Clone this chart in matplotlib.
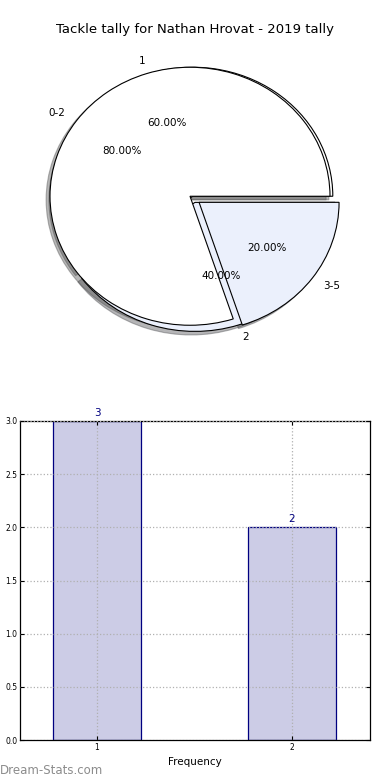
import matplotlib
matplotlib.use("Agg")
import matplotlib.pyplot as plt
import matplotlib.patches as mpatches
import numpy as np

title = "Tackle tally for Nathan Hrovat - 2019 tally"

# inner pie: tackles per game
tally_labels = ["1", "2"]
tally_counts = [3, 2]
# outer pie: grouped ranges
range_labels = ["0-2", "3-5"]
range_counts = [4, 1]

# bar chart
bar_x = [1, 2]
bar_vals = [3, 2]

pie_colors = ["white", "#ebf0fc"]

fig = plt.figure(figsize=(3.9, 7.8), dpi=100)

# pie axes (old style, not equal aspect -> elliptical pie)
ax1 = fig.add_axes([15 / 390, 1 - 357.5 / 780, 350 / 390, 322.5 / 780])

w1, t1, p1 = ax1.pie(tally_counts, labels=tally_labels, colors=pie_colors,
                     explode=(0, 0.05), center=(0.02, 0), autopct="%.2f%%",
                     startangle=0, wedgeprops=dict(edgecolor="black", linewidth=0.8),
                     textprops=dict(fontsize=7.5))
w2, t2, p2 = ax1.pie(range_counts, labels=range_labels, colors=pie_colors,
                     explode=(0, 0.08), autopct="%.2f%%",
                     startangle=0, wedgeprops=dict(edgecolor="black", linewidth=0.8),
                     textprops=dict(fontsize=7.5))
for w in w1:
    w.set_zorder(1)
for w in w2:
    w.set_zorder(2)
# shadows go under every wedge
for w in list(w1) + list(w2):
    s = mpatches.Shadow(w, -0.02, -0.02, alpha=0.4)
    s.set_zorder(0.5)
    ax1.add_patch(s)
for t in list(t1) + list(p1) + list(t2) + list(p2):
    t.set_zorder(5)
ax1.set_aspect("auto")
ax1.set_xlim(-1.25, 1.25)
ax1.set_ylim(-1.25, 1.25)
ax1.axis("off")
fig.text(195 / 390, 1 - 30 / 780, title, ha="center", va="center", fontsize=9.5)

# bar axes
ax2 = fig.add_axes([20 / 390, 1 - 740 / 780, 350 / 390, 319 / 780])
ax2.bar(bar_x, bar_vals, width=0.45, color="#ccccE6", edgecolor="navy", linewidth=0.9)
for x, v in zip(bar_x, bar_vals):
    ax2.text(x, v + 0.03, str(v), ha="center", va="bottom", color="navy", fontsize=7.5)
ax2.set_xlim(0.605, 2.4)
ax2.set_ylim(0, 3)
ax2.set_xticks(bar_x)
ax2.set_yticks(np.arange(0, 3.01, 0.5))
ax2.tick_params(direction="in", labelsize=5.5, length=3, top=True, right=True, pad=2)
ax2.set_yticklabels(["%.1f" % v for v in np.arange(0, 3.01, 0.5)])
ax2.grid(True, linestyle=":", color="#b0b0b0", linewidth=0.9)
ax2.set_axisbelow(False)
for sp in ax2.spines.values():
    sp.set_linewidth(0.9)
ax2.set_xlabel("Frequency", fontsize=7.5, labelpad=4)

fig.text(0, 1 - 770 / 780, "Dream-Stats.com", ha="left", va="center",
         fontsize=8.5, color="#8c8c8c")

fig.savefig("out.png", dpi=100)
